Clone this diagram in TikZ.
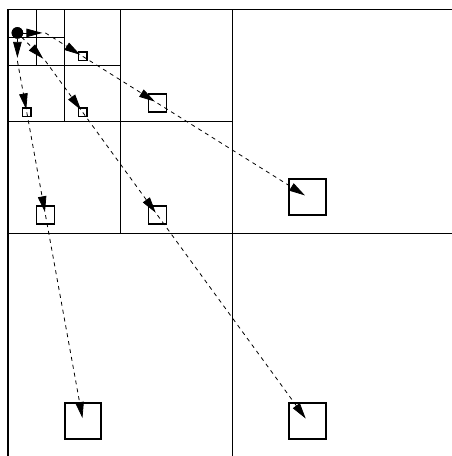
\documentclass[tikz,border=0pt]{standalone}
\usetikzlibrary{arrows.meta}
\begin{document}
\begin{tikzpicture}[x=1pt,y=-1pt,
  frame/.style={line width=1.6pt, line join=miter},
  gridline/.style={line width=0.9pt},
  conn/.style={line width=0.8pt, dash pattern=on 4pt off 4pt,
    -{Triangle[length=16pt,width=8.5pt]}, shorten >=3pt},
  box/.style={draw, line width=1.6pt, inner sep=0pt, minimum size=#1},
  dotnode/.style={circle, fill=black, inner sep=0pt, minimum size=11.5pt}
]
\useasboundingbox (0,0) rectangle (452,456);
\clip (0,0) rectangle (452,456);
\fill[white] (0,0) rectangle (452,456);
% quadtree cells
\draw[gridline] (232,9.5) -- (232,457.5);
\draw[gridline] (8,233.5) -- (456,233.5);
\draw[gridline] (120,9.5) -- (120,233.5);
\draw[gridline] (8,121.5) -- (232,121.5);
\draw[gridline] (64,9.5) -- (64,121.5);
\draw[gridline] (8,65.5) -- (120,65.5);
\draw[gridline] (36,9.5) -- (36,65.5);
\draw[gridline] (8,37.5) -- (64,37.5);
\draw[frame] (8,457.5) -- (8,9.5) -- (456,9.5);
% centres
\coordinate (sA) at (45.4,32.9);
\coordinate (sB) at (17.4,60.9);
\coordinate (sC) at (45.4,60.9);
\coordinate (A) at (82.8,56.4);
\coordinate (B) at (26.8,112.4);
\coordinate (C) at (82.8,112.4);
\coordinate (D) at (157.5,103.2);
\coordinate (E) at (45.5,215.2);
\coordinate (F) at (157.5,215.2);
\coordinate (G) at (307.5,197);
\coordinate (H) at (83,421);
\coordinate (I) at (307.5,421);
% boxes
\node[box=8.5pt] (Abox) at (A) {};
\node[box=8.5pt] (Bbox) at (B) {};
\node[box=8.5pt] (Cbox) at (C) {};
\node[box=18pt] (Dbox) at (D) {};
\node[box=18pt] (Ebox) at (E) {};
\node[box=18pt] (Fbox) at (F) {};
\node[box=36.5pt] (Gbox) at (G) {};
\node[box=36.5pt] (Hbox) at (H) {};
\node[box=36.5pt] (Ibox) at (I) {};
\node[dotnode] (dot) at (17.4,32.9) {};
% connectors
\draw[conn] (dot) -- (sA);
\draw[conn] (sA) -- (A);
\draw[conn] (A) -- (D);
\draw[conn] (D) -- (G);
\draw[conn] (dot) -- (sB);
\draw[conn] (sB) -- (B);
\draw[conn] (B) -- (E);
\draw[conn] (E) -- (H);
\draw[conn] (dot) -- (sC);
\draw[conn] (sC) -- (C);
\draw[conn] (C) -- (F);
\draw[conn] (F) -- (I);
\node[dotnode] at (dot) {};
\end{tikzpicture}
\end{document}
